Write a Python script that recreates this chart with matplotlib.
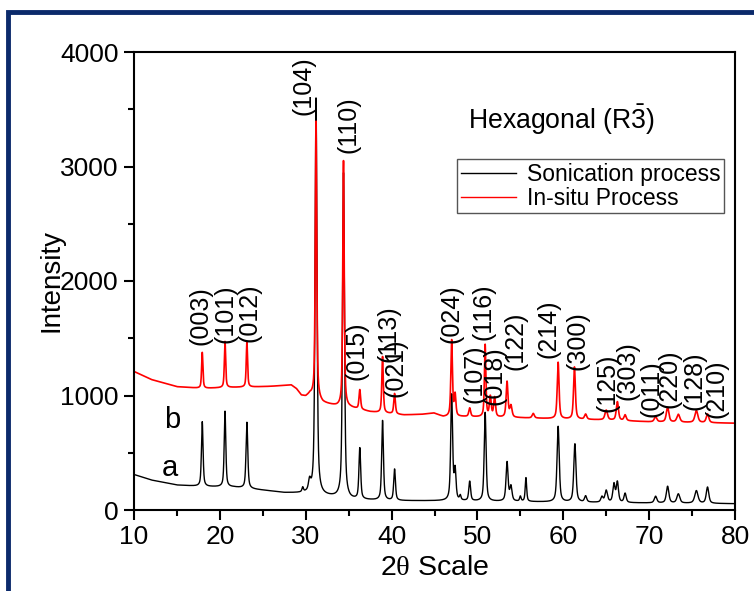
import numpy as np
import matplotlib
matplotlib.use("Agg")
import matplotlib.pyplot as plt
from matplotlib.patches import Rectangle

plt.rcParams['font.family'] = ['Liberation Sans', 'DejaVu Sans']
plt.rcParams['mathtext.fontset'] = 'custom'
plt.rcParams['mathtext.rm'] = 'Liberation Sans'
plt.rcParams['mathtext.sf'] = 'Liberation Serif'

# ---------------- data ----------------
# baselines (2theta, intensity)
base_a_x = [10, 12, 15, 18, 21.6, 25.5, 27.5, 30, 33, 35.2, 40, 46, 50, 55, 60, 70, 80]
base_a_y = [310, 262, 218, 205, 200, 169, 151, 145, 116, 92, 81, 80, 76, 73, 68, 61, 55]
base_b_x = [10, 12, 15, 18, 21, 24, 26, 27.5, 28.3, 28.9, 29.5, 30.0, 30.5, 32, 33.6,
            35.2, 37.5, 41.4, 43.5, 44.9, 46, 48.3, 55, 60, 65, 70, 80]
base_b_y = [1210, 1140, 1077, 1062, 1070, 1075, 1080, 1088, 1092, 1060, 1000, 990, 1010,
            935, 908, 895, 858, 830, 835, 847, 815, 815, 805, 795, 786, 770, 758]

# sample a (Sonication process): peak positions, heights above baseline, widths
peaks_a_pos = [17.95, 20.6, 23.15, 29.65, 30.45, 31.2, 34.4, 36.3, 38.95, 40.35, 47.0,
               47.4, 48.0, 49.1, 50.9, 53.45, 53.9, 55.0, 55.65, 59.4, 61.35, 62.6,
               64.5, 65.0, 65.9, 66.3, 67.2, 70.75, 72.15, 73.4, 75.5, 76.8]
peaks_a_h = [565, 660, 577, 40, 90, 3460, 2840, 445, 695, 273, 920,
             255, 40, 170, 775, 340, 127, 43, 207, 660, 508, 53,
             47, 103, 158, 175, 80, 58, 146, 80, 110, 142]
peaks_a_w = [0.22, 0.22, 0.24, 0.2, 0.3, 0.26, 0.26, 0.24, 0.24, 0.24, 0.26,
             0.25, 0.2, 0.25, 0.26, 0.28, 0.3, 0.2, 0.2, 0.3, 0.3, 0.3,
             0.3, 0.35, 0.3, 0.3, 0.3, 0.35, 0.35, 0.4, 0.45, 0.35]

# sample b (In-situ Process)
peaks_b_pos = [17.95, 20.6, 23.15, 31.2, 34.4, 36.3, 38.95, 40.35, 47.0, 47.4, 49.1,
               50.9, 51.5, 52.0, 53.45, 53.9, 56.5, 59.4, 61.3, 62.6, 65.0, 66.3,
               67.2, 70.75, 72.15, 73.4, 75.5, 76.8]
peaks_b_h = [314, 403, 391, 2420, 2148, 170, 491, 178, 665, 185, 75,
             630, 175, 170, 310, 100, 40, 493, 455, 45, 85, 163,
             50, 45, 128, 68, 105, 75]
peaks_b_w = [0.18, 0.18, 0.18, 0.2, 0.2, 0.22, 0.2, 0.22, 0.22, 0.22, 0.25,
             0.2, 0.25, 0.25, 0.25, 0.3, 0.3, 0.25, 0.25, 0.3, 0.35, 0.3,
             0.3, 0.35, 0.35, 0.4, 0.4, 0.35]

# hkl labels: text, x (2theta), bottom y (intensity)
hkl_text = ['(003)', '(101)', '(012)', '(104)', '(110)', '(015)', '(113)', '(021)',
            '(024)', '(107)', '(116)', '(018)', '(122)', '(214)', '(300)', '(125)',
            '(303)', '(011)', '(220)', '(128)', '(210)']
hkl_x = [17.7, 20.6, 23.4, 29.7, 35.0, 35.9, 39.6, 40.4, 47.0, 49.7, 50.7, 52.0,
         54.4, 58.3, 61.6, 65.1, 67.5, 70.3, 72.4, 75.3, 77.9]
hkl_y = [1441, 1458, 1467, 3450, 3118, 1135, 1293, 987, 1458, 934, 1485, 917,
         1223, 1328, 1223, 856, 961, 812, 891, 873, 803]

# ---------------- build traces ----------------
tt = np.linspace(10, 80, 7001)


def trace(bx, by, pos, h, w):
    y = np.interp(tt, bx, by)
    for p, hh, ww in zip(pos, h, w):
        g = 0.5 * ww
        y = y + hh * (0.6 * g**2 / ((tt - p)**2 + g**2)
                      + 0.4 * np.exp(-4 * np.log(2) * (tt - p)**2 / ww**2))
    return y


ya = trace(base_a_x, base_a_y, peaks_a_pos, peaks_a_h, peaks_a_w)
yb = trace(base_b_x, base_b_y, peaks_b_pos, peaks_b_h, peaks_b_w)

# ---------------- figure ----------------
fig = plt.figure(figsize=(7.54, 5.91), dpi=100)
fig.add_artist(Rectangle((8 / 754, -0.2), 1.2, 1.2 - 12 / 591,
                         transform=fig.transFigure, fill=False,
                         edgecolor='#0b2a6b', linewidth=3.5))
ax = fig.add_axes([134 / 754, 81 / 591, 601 / 754, 458 / 591])

ax.plot(tt, ya, color='black', lw=1.0, label='Sonication process')
ax.plot(tt, yb, color='#ff0000', lw=1.2, label='In-situ Process')

ax.set_xlim(10, 80)
ax.set_ylim(0, 4000)
ax.set_xticks([10, 20, 30, 40, 50, 60, 70, 80])
ax.set_xticks(np.arange(15, 80, 10), minor=True)
ax.set_yticks([0, 1000, 2000, 3000, 4000])
ax.set_yticks([500, 1500, 2500, 3500], minor=True)
ax.tick_params(axis='both', which='major', direction='out', length=7, width=1.5,
               labelsize=19, top=False, right=False, pad=4)
ax.tick_params(axis='both', which='minor', direction='out', length=4.5, width=1.5,
               top=False, right=False)
for s in ax.spines.values():
    s.set_linewidth(1.5)

ax.set_xlabel(r'2$\mathsf{\theta}$ Scale', fontsize=20.5, labelpad=4)
ax.set_ylabel('Intensity', fontsize=20, labelpad=-3)

for t, x, y in zip(hkl_text, hkl_x, hkl_y):
    ax.text(x, y, t, rotation=90, ha='center', va='bottom', fontsize=18)

ax.text(14.4, 786, 'b', fontsize=21, ha='center', va='center')
ax.text(14.2, 367, 'a', fontsize=21, ha='center', va='center')
ax.text(0.712, 0.852, r'Hexagonal (R$\mathrm{\bar{3}}$)', transform=ax.transAxes,
        fontsize=19.2, ha='center', va='center')

leg = ax.legend(loc='upper right', bbox_to_anchor=(0.982, 0.766), fontsize=16.5,
                frameon=True, fancybox=False, edgecolor='#555555', framealpha=1,
                handlelength=2.4, handletextpad=0.5, borderpad=0.15,
                labelspacing=0.05, borderaxespad=0)
leg.get_frame().set_linewidth(1.0)
for l in leg.get_lines():
    l.set_linewidth(1.0)

fig.savefig('out.png', dpi=100)
